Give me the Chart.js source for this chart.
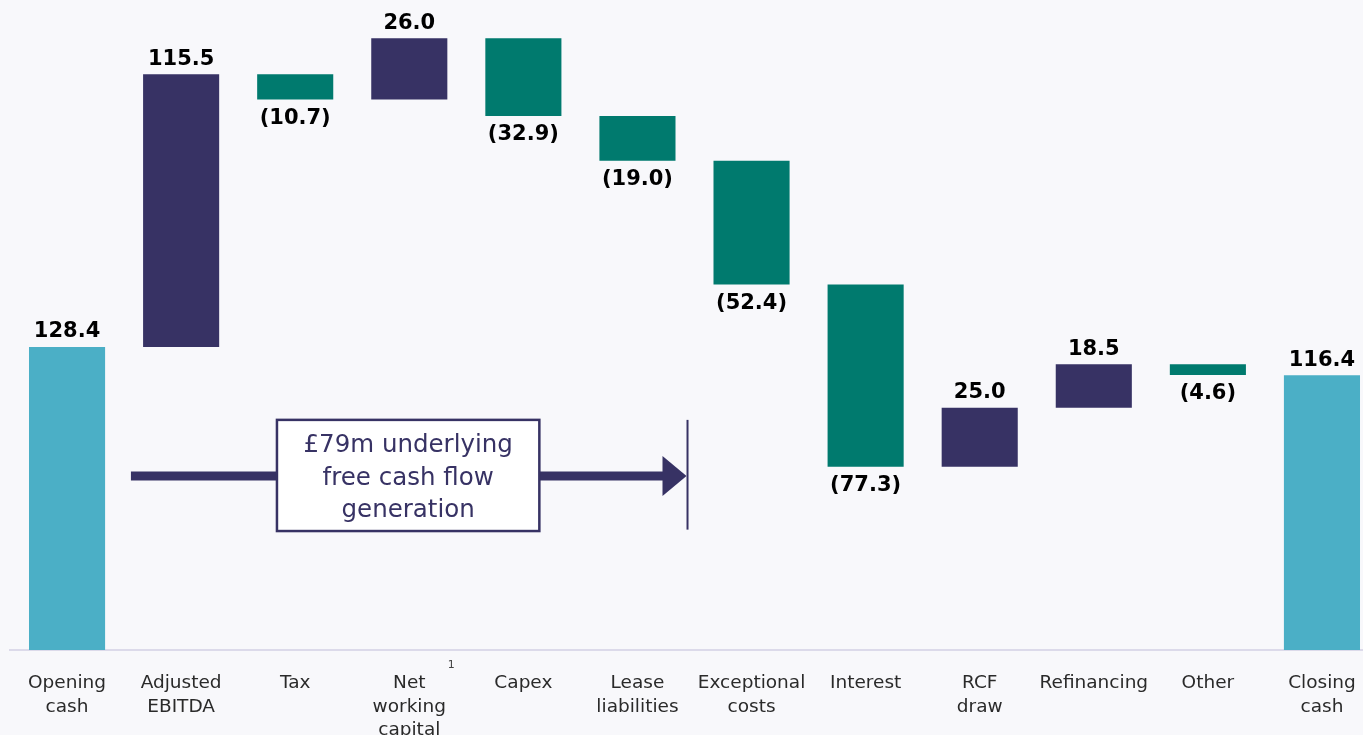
<!DOCTYPE html>
<html>
<head>
<meta charset="utf-8">
<script src="https://cdn.jsdelivr.net/npm/chart.js@4.4.0/dist/chart.umd.min.js"></script>
<style>
  html, body { margin: 0; padding: 0; background: #f8f8fb; overflow: hidden; }
  #wrap { width: 1380px; height: 735px; }
</style>
</head>
<body>
<div id="wrap"><canvas id="cashChart"></canvas></div>
<script>
const categories = [
  ["Opening", "cash"], ["Adjusted", "EBITDA"], "Tax", ["Net", "working", "capital"],
  "Capex", ["Lease", "liabilities"], ["Exceptional", "costs"], "Interest",
  ["RCF", "draw"], "Refinancing", "Other", ["Closing", "cash"]
];
const movements = [128.4, 115.5, -10.7, 26.0, -32.9, -19.0, -52.4, -77.3, 25.0, 18.5, -4.6, 116.4];
const barTypes = ["total", "up", "down", "up", "down", "down", "down", "down", "up", "up", "down", "total"];
const annotationText = ["£79m underlying", "free cash flow", "generation"];

const colours = { total: "#4bafc6", up: "#373264", down: "#007a6e" };
const navy = "#373264";

// floating bars from the running total
let running = 0;
const floating = movements.map((v, i) => {
  if (barTypes[i] === "total") {
    running = v;
    return [0, v];
  }
  const start = running;
  running += v;
  return [Math.min(start, running), Math.max(start, running)];
});

const fmt = (v) => v < 0 ? "(" + Math.abs(v).toFixed(1) + ")" : v.toFixed(1);

const labelPlugin = {
  id: "labels",
  afterDatasetsDraw(chart) {
    const ctx = chart.ctx;
    const x = chart.scales.x;
    const y = chart.scales.y;
    ctx.save();
    ctx.fillStyle = "#000";
    ctx.font = "bold 21px 'DejaVu Sans'";
    ctx.textAlign = "center";
    ctx.textBaseline = "middle";
    floating.forEach((b, i) => {
      const cx = x.getPixelForValue(i);
      if (movements[i] < 0) {
        ctx.fillText(fmt(movements[i]), cx, y.getPixelForValue(b[0]) + 19);
      } else {
        ctx.fillText(fmt(movements[i]), cx, y.getPixelForValue(b[1]) - 15);
      }
    });

    // footnote marker on Net working capital
    ctx.fillStyle = "#444";
    ctx.font = "11px 'DejaVu Sans'";
    ctx.fillText("1", x.getPixelForValue(3) + 42, chart.chartArea.bottom + 15);

    // underlying free cash flow arrow
    const ay = y.getPixelForValue(73.7);
    const xs = x.getPixelForValue(0.56);
    const xe = x.getPixelForValue(5.43);
    ctx.strokeStyle = navy;
    ctx.lineWidth = 9;
    ctx.beginPath();
    ctx.moveTo(xs, ay);
    ctx.lineTo(xe - 20, ay);
    ctx.stroke();
    ctx.fillStyle = navy;
    ctx.beginPath();
    ctx.moveTo(xe - 24, ay - 20);
    ctx.lineTo(xe, ay);
    ctx.lineTo(xe - 24, ay + 20);
    ctx.closePath();
    ctx.fill();
    ctx.lineWidth = 2;
    ctx.beginPath();
    ctx.moveTo(xe + 1, y.getPixelForValue(97.5));
    ctx.lineTo(xe + 1, y.getPixelForValue(51));
    ctx.stroke();

    const bx0 = x.getPixelForValue(1.84);
    const bx1 = x.getPixelForValue(4.14);
    const by0 = y.getPixelForValue(97.5);
    const by1 = y.getPixelForValue(50.4);
    ctx.fillStyle = "#ffffff";
    ctx.fillRect(bx0, by0, bx1 - bx0, by1 - by0);
    ctx.lineWidth = 2.5;
    ctx.strokeRect(bx0, by0, bx1 - bx0, by1 - by0);
    ctx.fillStyle = navy;
    ctx.font = "24.5px 'DejaVu Sans'";
    const mid = (bx0 + bx1) / 2;
    annotationText.forEach((t, k) => {
      ctx.fillText(t, mid, by0 + 26 + k * 32.5);
    });
    ctx.restore();
  }
};

new Chart(document.getElementById("cashChart"), {
  type: "bar",
  data: {
    labels: categories,
    datasets: [{
      data: floating,
      backgroundColor: barTypes.map((t) => colours[t]),
      barPercentage: 0.667,
      categoryPercentage: 1.0,
      borderSkipped: false
    }]
  },
  options: {
    responsive: true,
    maintainAspectRatio: false,
    animation: false,
    layout: { padding: { left: 10, right: 1, top: 0, bottom: 0 } },
    plugins: {
      legend: { display: false },
      tooltip: { enabled: false }
    },
    scales: {
      x: {
        grid: { display: false },
        border: { display: true, color: "#dcdaea", width: 2 },
        ticks: {
          color: "#2a2a2a",
          padding: 14,
          maxRotation: 0,
          autoSkip: false,
          font: { family: "'DejaVu Sans'", size: 18.5, lineHeight: 1.25 }
        },
        afterFit: (scale) => { scale.height = 85; }
      },
      y: {
        display: false,
        min: 0,
        max: 275.4
      }
    }
  },
  plugins: [labelPlugin]
});
</script>
</body>
</html>
